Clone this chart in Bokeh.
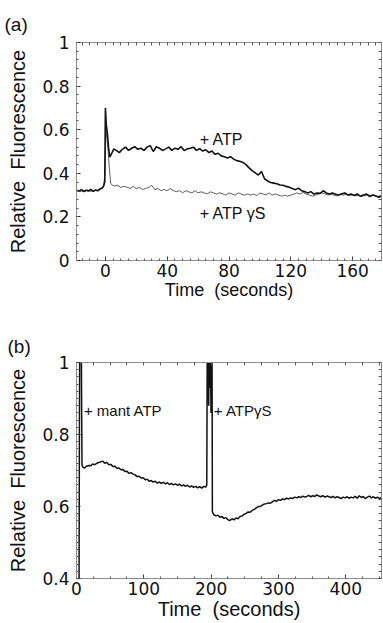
from bokeh.plotting import figure
from bokeh.layouts import column
from bokeh.models import LinearAxis, FixedTicker, Label, Range1d
from bokeh.embed import file_html
from bokeh.resources import INLINE

# ---------------- Panel (a) data ----------------
a_t_atp = [-18.5, -17, -15.5, -14, -12.5, -11, -9.5, -8, -6.5, -5, -3.5, -2, -1, -0.4,
           0, 0.6, 1.2, 2.0, 2.8, 4.0, 5.5] + list(range(7, 180, 2))
a_atp = [0.322, 0.318, 0.325, 0.316, 0.322, 0.319, 0.326, 0.317, 0.323, 0.320, 0.328,
         0.333, 0.345, 0.360, 0.700, 0.620, 0.590, 0.520, 0.474, 0.490, 0.512,
         0.505, 0.495, 0.510, 0.520, 0.505, 0.515, 0.522, 0.510, 0.515, 0.505,
         0.520, 0.527, 0.500, 0.522, 0.515, 0.505, 0.512, 0.520, 0.505, 0.515,
         0.510, 0.522, 0.505, 0.512, 0.515, 0.520, 0.505, 0.513, 0.502, 0.508,
         0.495, 0.502, 0.487, 0.492, 0.480, 0.476, 0.470, 0.476, 0.465, 0.458,
         0.455, 0.450, 0.440, 0.425, 0.412, 0.402, 0.392, 0.408, 0.375, 0.365,
         0.358, 0.355, 0.352, 0.346, 0.345, 0.340, 0.336, 0.330, 0.325, 0.332,
         0.320, 0.316, 0.310, 0.316, 0.305, 0.310, 0.308, 0.320, 0.310, 0.305,
         0.310, 0.304, 0.300, 0.306, 0.310, 0.300, 0.305, 0.298, 0.305, 0.295,
         0.300, 0.305, 0.294, 0.300, 0.296, 0.290, 0.298]

a_t_gs = [-18.5, -17.2, -16, -14.6, -13, -11.6, -10, -8.5, -7, -5.5, -4, -2.5, -1.2, -0.3,
          0.3, 1.0, 1.8, 2.6, 3.4, 4.5, 6] + list(range(8, 179, 2))
a_atpgs = [0.318, 0.322, 0.316, 0.321, 0.318, 0.324, 0.317, 0.321, 0.319, 0.323, 0.325,
           0.330, 0.335, 0.400, 0.600, 0.560, 0.500, 0.420, 0.355, 0.345, 0.342,
           0.345, 0.335, 0.340, 0.336, 0.330, 0.340, 0.330, 0.335, 0.326, 0.330,
           0.335, 0.345, 0.325, 0.330, 0.320, 0.326, 0.320, 0.330, 0.320, 0.316,
           0.320, 0.311, 0.320, 0.315, 0.310, 0.320, 0.310, 0.315, 0.310, 0.306,
           0.315, 0.310, 0.305, 0.311, 0.305, 0.300, 0.310, 0.305, 0.300, 0.310,
           0.305, 0.300, 0.305, 0.300, 0.305, 0.298, 0.310, 0.305, 0.300, 0.310,
           0.300, 0.305, 0.300, 0.295, 0.300, 0.295, 0.300, 0.305, 0.310, 0.305,
           0.312, 0.305, 0.300, 0.295, 0.300, 0.305, 0.310, 0.306, 0.300, 0.304,
           0.300, 0.296, 0.303, 0.300, 0.305, 0.298, 0.302, 0.296, 0.300, 0.294,
           0.298, 0.302, 0.296, 0.300, 0.294, 0.297]

a_x_ticks = [0, 40, 80, 120, 160]
a_y_ticks = [0, 0.2, 0.4, 0.6, 0.8, 1.0]
a_y_tick_labels = ["0", "0.2", "0.4", "0.6", "0.8", "1"]

# ---------------- Panel (b) data ----------------
b_t = ([0.5, 3.8, 4.3, 4.8, 6.0, 7.2, 7.7, 8.2, 9.5] + list(range(12, 193, 3)) +
       [193.5, 194.2, 195.5, 196.3, 197.2, 198, 199, 199.8, 200.6, 201.3, 201.8] +
       list(range(204, 454, 3)))
b_f = [0.350, 0.400, 0.800, 1.050, 1.050, 1.050, 0.850, 0.715, 0.709,
       0.707, 0.712, 0.714, 0.713, 0.718, 0.716, 0.720, 0.722, 0.724, 0.726,
       0.720, 0.722, 0.716, 0.717, 0.711, 0.712, 0.706, 0.707, 0.702, 0.703,
       0.697, 0.698, 0.692, 0.694, 0.690, 0.688, 0.683, 0.684, 0.679, 0.680,
       0.674, 0.676, 0.670, 0.672, 0.668, 0.670, 0.665, 0.668, 0.664, 0.667,
       0.663, 0.666, 0.661, 0.664, 0.660, 0.663, 0.659, 0.662, 0.657, 0.660,
       0.656, 0.659, 0.654, 0.657, 0.653, 0.656, 0.652, 0.655, 0.651, 0.656,
       0.654,
       0.660, 1.050, 1.050, 0.880, 1.050, 0.930, 1.050, 0.860, 1.050, 1.050, 0.585,
       0.577, 0.574, 0.576, 0.570, 0.572, 0.567, 0.569, 0.563, 0.561, 0.566,
       0.563, 0.568, 0.566, 0.572, 0.574, 0.578, 0.581, 0.585, 0.584, 0.589,
       0.592, 0.596, 0.600, 0.600, 0.604, 0.607, 0.608, 0.610, 0.609, 0.613,
       0.617, 0.614, 0.619, 0.617, 0.621, 0.619, 0.623, 0.621, 0.624, 0.622,
       0.626, 0.624, 0.627, 0.625, 0.629, 0.626, 0.628, 0.631, 0.627, 0.630,
       0.628, 0.632, 0.629, 0.627, 0.630, 0.626, 0.629, 0.627, 0.625, 0.628,
       0.624, 0.627, 0.625, 0.622, 0.626, 0.624, 0.627, 0.623, 0.626, 0.624,
       0.628, 0.623, 0.630, 0.625, 0.628, 0.622, 0.626, 0.629, 0.624, 0.627,
       0.623, 0.626, 0.622, 0.625]

b_x_ticks = [0, 100, 200, 300, 400]
b_y_ticks = [0.4, 0.6, 0.8, 1.0]
b_y_tick_labels = ["0.4", "0.6", "0.8", "1"]

x_title = "Time\u00a0 (seconds)"
y_title = "Relative\u00a0 Fluorescence"

LABEL_FONT = "Liberation Sans"
TICK_FONT = "DejaVu Sans"
FRAME = "#8c8c8c"


def style_axis(ax, ticker, labels=None, size="17px"):
    ax.ticker = ticker
    ax.axis_line_color = FRAME
    ax.axis_line_width = 1
    ax.major_tick_in = 4
    ax.major_tick_out = 0
    ax.minor_tick_in = 2
    ax.minor_tick_out = 0
    ax.major_tick_line_color = "#333333"
    ax.minor_tick_line_color = "#555555"
    ax.major_label_text_font = TICK_FONT
    ax.major_label_text_color = "#111111"
    ax.major_label_text_font_size = size
    if labels is not None:
        ax.major_label_overrides = labels


def frame_axis(ticks, minor):
    # top / right frame side: only short inward ticks, no labels
    ax = LinearAxis(ticker=FixedTicker(ticks=[], minor_ticks=sorted(set(ticks) | set(minor))))
    ax.axis_line_color = FRAME
    ax.axis_line_width = 1
    ax.minor_tick_in = 3
    ax.minor_tick_out = 0
    ax.minor_tick_line_color = "#555555"
    ax.major_label_standoff = 0
    return ax


def make_panel(width, height, borders, xr, yr, xt, xminor, yt, ylabels, yminor,
               xlabel_size, title, title_standoff):
    p = figure(width=width, height=height, output_backend="svg", toolbar_location=None,
               x_range=Range1d(*xr), y_range=Range1d(*yr),
               min_border_left=borders[0], min_border_right=borders[1],
               min_border_top=borders[2], min_border_bottom=borders[3],
               title=title)
    p.outline_line_color = None
    p.xgrid.visible = False
    p.ygrid.visible = False
    p.background_fill_color = "white"
    p.border_fill_color = "white"
    xtick = FixedTicker(ticks=xt, minor_ticks=xminor)
    ytick = FixedTicker(ticks=yt, minor_ticks=yminor)
    ylab = dict(zip(yt, ylabels))
    style_axis(p.xaxis[0], xtick)
    style_axis(p.yaxis[0], ytick, ylab)
    p.xaxis[0].major_label_standoff = 3
    p.yaxis[0].major_label_standoff = 7
    p.xaxis[0].axis_label = x_title
    p.yaxis[0].axis_label = y_title
    for ax, sz in ((p.xaxis[0], xlabel_size), (p.yaxis[0], "20px")):
        ax.axis_label_text_font = LABEL_FONT
        ax.axis_label_text_font_size = sz
        ax.axis_label_text_font_style = "normal"
        ax.axis_label_text_color = "#111111"
    p.xaxis[0].axis_label_standoff = 0
    p.yaxis[0].axis_label_standoff = 10
    p.add_layout(frame_axis(xt, xminor), "above")
    p.add_layout(frame_axis(yt, yminor), "right")
    p.title.text_font = LABEL_FONT
    p.title.text_font_size = "19px"
    p.title.text_font_style = "normal"
    p.title.text_color = "#111111"
    p.title.align = "left"
    p.title.offset = -(borders[0] - 4)
    p.title.standoff = title_standoff
    return p


# Panel (a)
a_x_minor = [v for v in range(-15, 180, 5)]
a_y_minor = [round(0.04 * i, 2) for i in range(0, 26)]
pa = make_panel(383, 310, (76, 1, 42, 50), (-18.7, 178.7), (0, 1),
                a_x_ticks, a_x_minor, a_y_ticks, a_y_tick_labels, a_y_minor, "18px", "(a)", 16)
pa.line(a_t_gs, a_atpgs, line_color="#3a3a3a", line_width=0.8)
pa.line(a_t_atp, a_atp, line_color="#111111", line_width=1.6)
for x, y, txt in ((61, 0.555, "+ ATP"), (61, 0.215, "+ ATP γS")):
    pa.add_layout(Label(x=x, y=y, text=txt, text_baseline="middle", text_align="left",
                        text_font=LABEL_FONT, text_font_size="16px", text_color="#111111"))

# Panel (b)
b_x_minor = [v for v in range(25, 456, 25)]
b_y_minor = [round(0.4 + 0.02 * i, 2) for i in range(0, 31)]
pb = make_panel(383, 313, (73, 2, 52, 45), (0, 453), (0.4, 1.0),
                b_x_ticks, b_x_minor, b_y_ticks, b_y_tick_labels, b_y_minor, "20px", "(b)", 12)
pb.xaxis[0].major_label_standoff = 1
pb.line(b_t, b_f, line_color="#111111", line_width=1.5)
for x, y, txt in ((11, 0.867, "+ mant ATP"), (204, 0.867, "+ ATPγS")):
    pb.add_layout(Label(x=x, y=y, text=txt, text_baseline="middle", text_align="left",
                        text_font=LABEL_FONT, text_font_size="15px", text_color="#111111"))

layout = column(pa, pb, spacing=0)
open("out.html", "w").write(file_html(layout, INLINE))
